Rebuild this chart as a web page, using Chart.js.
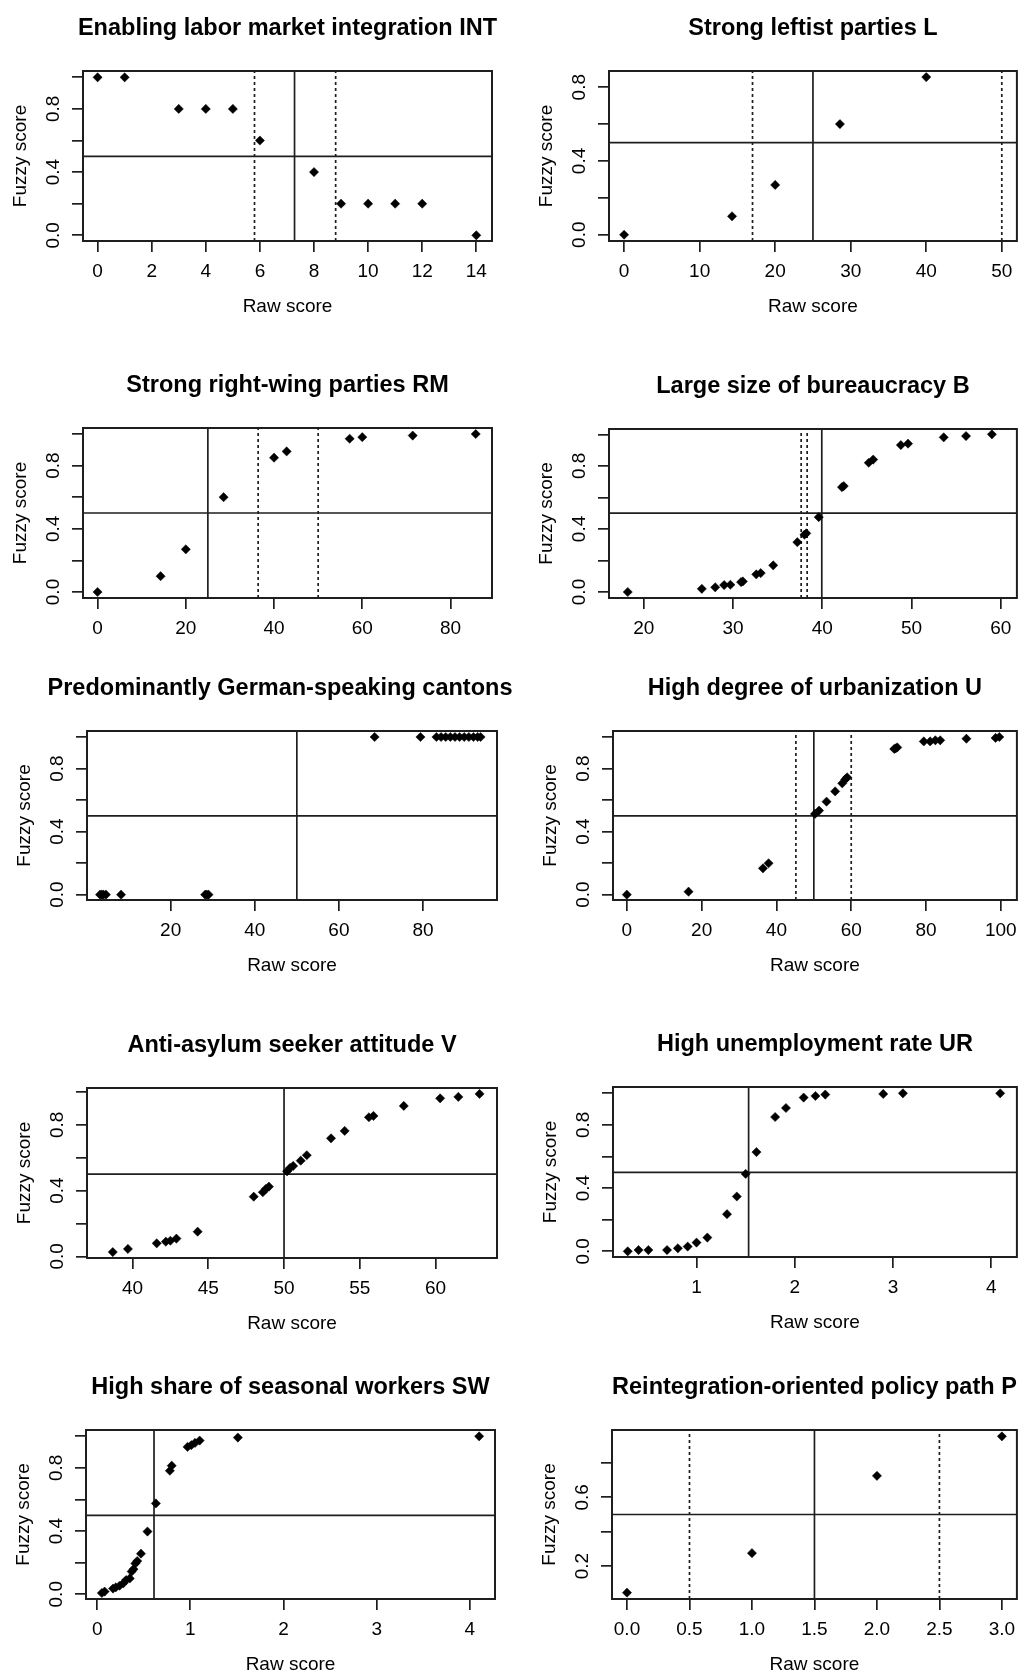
<!DOCTYPE html>
<html>
<head>
<meta charset="utf-8">
<script src="https://cdn.jsdelivr.net/npm/chart.js@4.4.1/dist/chart.umd.min.js"></script>
<style>
  html, body { margin: 0; padding: 0; background: #fff; overflow: hidden; }
  body { width: 1022px; height: 1675px; position: relative; }
  canvas { position: absolute; }
</style>
</head>
<body>
<script>
const FONT = '"Liberation Sans", Arial, sans-serif';
const INK = "#000";
const LINE = "#1e1e1e";

// tick sets shared by most panels
const yTicksStd = [0, 0.2, 0.4, 0.6, 0.8, 1.0];
const yLabelsStd = [0, 0.4, 0.8];

// INT
const intRaw = [0, 1, 3, 4, 5, 6, 8, 9, 10, 11, 12, 14];
const intFuzzy = [1, 1, 0.8, 0.8, 0.8, 0.6, 0.4, 0.2, 0.2, 0.2, 0.2, 0];
const intCross = [7.28];
const intAnchors = [5.8, 8.8];
const intXTicks = [0, 2, 4, 6, 8, 10, 12, 14];

// L
const leftRaw = [0, 14.29, 20, 28.57, 40];
const leftFuzzy = [0, 0.1, 0.27, 0.6, 0.855];
const leftCross = [25];
const leftAnchors = [17, 50];
const leftXTicks = [0, 10, 20, 30, 40, 50];
const leftYTicks = [0, 0.2, 0.4, 0.6, 0.8];

// RM
const rightRaw = [0, 14.29, 20, 28.57, 40, 42.86, 57.14, 60, 71.43, 85.71];
const rightFuzzy = [0, 0.1, 0.27, 0.6, 0.85, 0.89, 0.97, 0.98, 0.99, 1.0];
const rightCross = [25];
const rightAnchors = [36.4, 50];
const rightXTicks = [0, 20, 40, 60, 80];

// B
const burRaw = [18.2, 26.5, 28.0, 29.0, 29.7, 30.9, 31.1, 32.6, 33.1, 34.5, 37.2, 38.0, 38.2, 39.6, 42.2, 42.4, 45.2, 45.7, 48.8, 49.6, 53.6, 56.1, 59.0];
const burFuzzy = [0.0, 0.02, 0.03, 0.044, 0.046, 0.063, 0.067, 0.112, 0.12, 0.169, 0.316, 0.364, 0.372, 0.475, 0.665, 0.672, 0.82, 0.84, 0.932, 0.941, 0.981, 0.989, 1.0];
const burCross = [39.94];
const burAnchors = [37.63, 38.3];
const burXTicks = [20, 30, 40, 50, 60];

// German-speaking
const gerRaw = [3.2, 3.6, 4.0, 4.6, 8.2, 28.2, 28.6, 29.0, 68.5, 79.4, 83.2, 84.3, 85.4, 86.5, 87.6, 88.7, 89.8, 90.9, 92.0, 93.0, 93.7];
const gerFuzzy = [0, 0, 0, 0, 0, 0, 0, 0, 1, 1, 1, 1, 1, 1, 1, 1, 1, 1, 1, 1, 1];
const gerCross = [50];
const gerAnchors = [];
const gerXTicks = [20, 40, 60, 80];

// U
const urbRaw = [0, 16.5, 36.4, 37.9, 50.3, 51.4, 53.4, 55.7, 57.6, 58.4, 58.9, 71.5, 71.9, 72.3, 79.4, 81.1, 82.5, 83.8, 90.8, 98.6, 99.6];
const urbFuzzy = [0, 0.019, 0.167, 0.199, 0.512, 0.533, 0.59, 0.655, 0.706, 0.731, 0.744, 0.924, 0.928, 0.934, 0.972, 0.972, 0.979, 0.979, 0.989, 0.994, 1.0];
const urbCross = [50];
const urbAnchors = [45.2, 60];
const urbXTicks = [0, 20, 40, 60, 80, 100];

// V
const asyRaw = [38.7, 39.7, 41.6, 42.2, 42.5, 42.9, 44.3, 48.0, 48.6, 48.8, 49.0, 50.2, 50.4, 50.6, 51.1, 51.5, 53.1, 54.0, 55.6, 55.9, 57.9, 60.3, 61.5, 62.9];
const asyFuzzy = [0.026, 0.045, 0.079, 0.089, 0.095, 0.108, 0.15, 0.363, 0.39, 0.41, 0.424, 0.517, 0.538, 0.55, 0.582, 0.615, 0.718, 0.763, 0.846, 0.854, 0.915, 0.961, 0.97, 0.988];
const asyCross = [50];
const asyAnchors = [];
const asyXTicks = [40, 45, 50, 55, 60];

// UR
const unRaw = [0.3, 0.41, 0.51, 0.7, 0.81, 0.91, 1.0, 1.11, 1.31, 1.41, 1.5, 1.61, 1.8, 1.91, 2.09, 2.21, 2.31, 2.9, 3.1, 4.09];
const unFuzzy = [0.0, 0.008, 0.008, 0.008, 0.019, 0.03, 0.055, 0.087, 0.235, 0.347, 0.49, 0.628, 0.85, 0.907, 0.973, 0.983, 0.992, 0.996, 1.0, 1.0];
const unCross = [1.53];
const unAnchors = [];
const unXTicks = [1, 2, 3, 4];

// SW
const swRaw = [0.05, 0.08, 0.17, 0.2, 0.24, 0.28, 0.31, 0.35, 0.37, 0.39, 0.41, 0.43, 0.47, 0.54, 0.63, 0.78, 0.8, 0.97, 1.01, 1.05, 1.1, 1.51, 4.1];
const swFuzzy = [0.008, 0.017, 0.036, 0.044, 0.054, 0.069, 0.09, 0.1, 0.144, 0.159, 0.195, 0.21, 0.257, 0.397, 0.575, 0.782, 0.814, 0.933, 0.944, 0.958, 0.973, 0.992, 1.0];
const swCross = [0.61];
const swAnchors = [];
const swXTicks = [0, 1, 2, 3, 4];

// P
const polRaw = [0, 1, 2, 3];
const polFuzzy = [0.045, 0.275, 0.725, 0.955];
const polCross = [1.5];
const polAnchors = [0.5, 2.5];
const polXTicks = [0, 0.5, 1, 1.5, 2, 2.5, 3];
const polYTicks = [0.2, 0.4, 0.6, 0.8];
const polYLabels = [0.2, 0.6];

const panels = [
  { title: "Enabling labor market integration INT", raw: intRaw, fuzzy: intFuzzy, cross: intCross, anchors: intAnchors, xTicks: intXTicks, x: [-0.54, 14.58], y: [-0.036, 1.04] },
  { title: "Strong leftist parties L", raw: leftRaw, fuzzy: leftFuzzy, cross: leftCross, anchors: leftAnchors, xTicks: leftXTicks, yTicks: leftYTicks, x: [-2, 52], y: [-0.034, 0.888] },
  { title: "Strong right-wing parties RM", raw: rightRaw, fuzzy: rightFuzzy, cross: rightCross, anchors: rightAnchors, xTicks: rightXTicks, x: [-3.3, 89.4], y: [-0.038, 1.038], noXTitle: true },
  { title: "Large size of bureaucracy B", raw: burRaw, fuzzy: burFuzzy, cross: burCross, anchors: burAnchors, xTicks: burXTicks, x: [16.1, 61.8], y: [-0.038, 1.034], noXTitle: true },
  { title: "Predominantly German-speaking cantons", raw: gerRaw, fuzzy: gerFuzzy, cross: gerCross, anchors: gerAnchors, xTicks: gerXTicks, x: [0.1, 97.6], y: [-0.034, 1.038], shift: -12 },
  { title: "High degree of urbanization U", raw: urbRaw, fuzzy: urbFuzzy, cross: urbCross, anchors: urbAnchors, xTicks: urbXTicks, x: [-3.7, 104.3], y: [-0.034, 1.038] },
  { title: "Anti-asylum seeker attitude V", raw: asyRaw, fuzzy: asyFuzzy, cross: asyCross, anchors: asyAnchors, xTicks: asyXTicks, x: [37.0, 64.05], y: [-0.01, 1.024] },
  { title: "High unemployment rate UR", raw: unRaw, fuzzy: unFuzzy, cross: unCross, anchors: unAnchors, xTicks: unXTicks, x: [0.15, 4.26], y: [-0.036, 1.04] },
  { title: "High share of seasonal workers SW", raw: swRaw, fuzzy: swFuzzy, cross: swCross, anchors: swAnchors, xTicks: swXTicks, x: [-0.12, 4.27], y: [-0.03, 1.04] },
  { title: "Reintegration-oriented policy path P", raw: polRaw, fuzzy: polFuzzy, cross: polCross, anchors: polAnchors, xTicks: polXTicks, yTicks: polYTicks, yLabels: polYLabels, xDec: 1, x: [-0.12, 3.12], y: [0.008, 0.992] },
];

// plot box of every panel on the page: left, top, right, bottom
const boxes = [
  [83, 71, 492, 241], [609, 71, 1018, 241],
  [83, 428, 492, 598], [609, 429, 1018, 598],
  [87, 731, 497, 900], [613, 731, 1021, 900],
  [87, 1088, 497, 1258], [613, 1087, 1021, 1257],
  [86, 1430, 495, 1599], [612, 1430, 1020, 1599],
];

const boxPlugin = {
  id: "rbox",
  afterDatasetsDraw(chart) {
    const { ctx, chartArea: a } = chart;
    ctx.save();
    ctx.strokeStyle = LINE;
    ctx.lineWidth = 2;
    ctx.strokeRect(a.left, a.top, a.right - a.left, a.bottom - a.top);
    ctx.restore();
  },
};

const titlePlugin = {
  id: "rtitle",
  afterDraw(chart, args, opts) {
    const { ctx, chartArea: a } = chart;
    ctx.save();
    ctx.font = "bold 23.5px " + FONT;
    ctx.fillStyle = INK;
    ctx.textAlign = "center";
    ctx.textBaseline = "alphabetic";
    ctx.fillText(opts.text, (a.left + a.right) / 2 + (opts.shift || 0), a.top - 36);
    ctx.restore();
  },
};

const refLine = (pts, dotted) => ({
  data: pts,
  showLine: true,
  borderColor: LINE,
  borderWidth: 1.7,
  borderDash: dotted ? [3, 3] : [],
  pointRadius: 0,
  fill: false,
});

panels.forEach((p, i) => {
  const [bl, bt, br, bb] = boxes[i];
  const col = i % 2;
  const cLeft = col === 0 ? 0 : 511;
  const cWidth = col === 0 ? 545 : 511;
  const xH = p.noXTitle ? 45 : 77;
  const yW = 75;
  const cTop = bt - 71;
  const cHeight = 71 + (bb - bt) + xH + 5;

  const canvas = document.createElement("canvas");
  canvas.width = cWidth;
  canvas.height = cHeight;
  canvas.style.left = cLeft + "px";
  canvas.style.top = cTop + "px";
  canvas.style.width = cWidth + "px";
  canvas.style.height = cHeight + "px";
  document.body.appendChild(canvas);

  const yTicks = p.yTicks || yTicksStd;
  const yLabels = p.yLabels || yLabelsStd;
  const xDec = p.xDec || 0;

  const datasets = [
    {
      data: p.raw.map((r, k) => ({ x: r, y: p.fuzzy[k] })),
      pointStyle: "rectRot",
      pointRadius: 4.6,
      pointBackgroundColor: INK,
      pointBorderColor: INK,
      pointBorderWidth: 0.5,
      showLine: false,
    },
  ];
  // horizontal 0.5 line, crossover (solid) and anchors (dotted)
  datasets.push(refLine([{ x: p.x[0], y: 0.5 }, { x: p.x[1], y: 0.5 }], false));
  p.cross.forEach(v => datasets.push(refLine([{ x: v, y: p.y[0] }, { x: v, y: p.y[1] }], false)));
  p.anchors.forEach(v => datasets.push(refLine([{ x: v, y: p.y[0] }, { x: v, y: p.y[1] }], true)));

  const tickFont = { family: FONT, size: 19 };
  const gridOpts = { drawOnChartArea: false, drawTicks: true, tickLength: 11, color: LINE, lineWidth: 1.7 };

  new Chart(canvas, {
    type: "scatter",
    data: { datasets },
    options: {
      responsive: false,
      animation: false,
      events: [],
      layout: { padding: { left: bl - cLeft - yW, right: cLeft + cWidth - br, top: 71, bottom: 5 } },
      plugins: {
        legend: { display: false },
        tooltip: { enabled: false },
        rtitle: { text: p.title, shift: p.shift || 0 },
      },
      scales: {
        x: {
          type: "linear",
          min: p.x[0],
          max: p.x[1],
          bounds: "data",
          afterBuildTicks: s => { s.ticks = p.xTicks.map(v => ({ value: v })); },
          afterFit: s => { s.height = xH; s.paddingLeft = 0; s.paddingRight = 0; },
          ticks: {
            autoSkip: false, minRotation: 0, maxRotation: 0, padding: 8,
            color: INK, font: tickFont,
            callback: v => v.toFixed(xDec),
          },
          grid: gridOpts,
          border: { display: false },
          title: { display: !p.noXTitle, text: "Raw score", color: INK, font: tickFont, padding: 0 },
        },
        y: {
          type: "linear",
          min: p.y[0],
          max: p.y[1],
          bounds: "data",
          afterBuildTicks: s => { s.ticks = yTicks.map(v => ({ value: v })); },
          afterFit: s => { s.width = yW; s.paddingTop = 0; s.paddingBottom = 0; },
          ticks: {
            autoSkip: false, minRotation: 90, maxRotation: 90, crossAlign: "center", padding: 5,
            color: INK, font: tickFont,
            callback: v => (yLabels.some(l => Math.abs(l - v) < 1e-9) ? v.toFixed(1) : ""),
          },
          grid: gridOpts,
          border: { display: false },
          title: { display: true, text: "Fuzzy score", color: INK, font: tickFont, padding: { top: 1, bottom: 0 } },
        },
      },
    },
    plugins: [boxPlugin, titlePlugin],
  });
});
</script>
</body>
</html>
